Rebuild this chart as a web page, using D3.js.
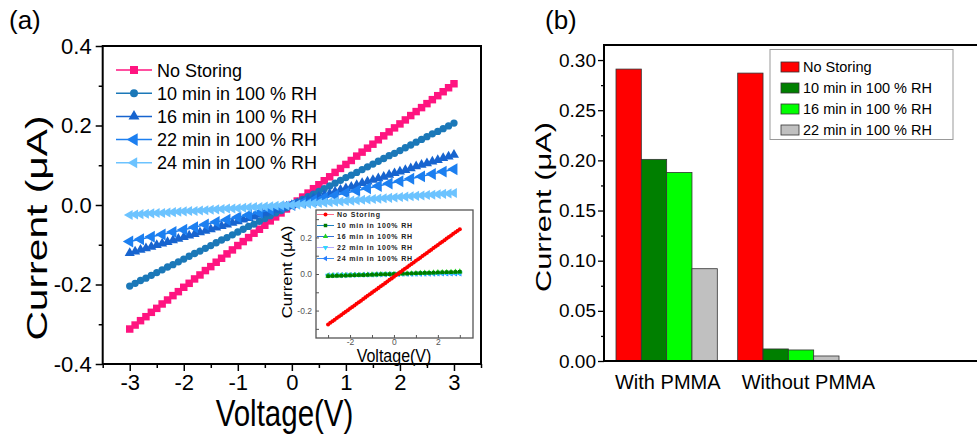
<!DOCTYPE html>
<html>
<head>
<meta charset="utf-8">
<script src="https://cdn.jsdelivr.net/npm/d3@7"></script>
<style>
  body { margin: 0; background: #fff; }
  svg { display: block; font-family: "Liberation Sans", Arial, sans-serif; }
</style>
</head>
<body>
<div class="chart"></div>
<script>
// ---- panel (a) data: I-V sweeps ----
const voltage = [-3.0,-2.9,-2.8,-2.7,-2.6,-2.5,-2.4,-2.3,-2.2,-2.1,-2.0,-1.9,-1.8,-1.7,-1.6,-1.5,-1.4,-1.3,-1.2,-1.1,
  -1.0,-0.9,-0.8,-0.7,-0.6,-0.5,-0.4,-0.3,-0.2,-0.1,0.0,0.1,0.2,0.3,0.4,0.5,0.6,0.7,0.8,0.9,
  1.0,1.1,1.2,1.3,1.4,1.5,1.6,1.7,1.8,1.9,2.0,2.1,2.2,2.3,2.4,2.5,2.6,2.7,2.8,2.9,3.0];
const voltageCoarse = [-3.0,-2.8,-2.6,-2.4,-2.2,-2.0,-1.8,-1.6,-1.4,-1.2,-1.0,-0.8,-0.6,-0.4,-0.2,0.0,
  0.2,0.4,0.6,0.8,1.0,1.2,1.4,1.6,1.8,2.0,2.2,2.4,2.6,2.8,3.0];

const noStoring = [-0.312,-0.302,-0.291,-0.281,-0.270,-0.260,-0.249,-0.239,-0.228,-0.218,-0.207,-0.197,-0.186,-0.176,-0.165,
  -0.155,-0.144,-0.134,-0.123,-0.113,-0.102,-0.092,-0.082,-0.071,-0.061,-0.051,-0.040,-0.030,-0.020,-0.010,0.000,
  0.010,0.020,0.030,0.041,0.051,0.061,0.071,0.082,0.092,0.102,0.112,0.123,0.133,0.143,0.153,0.164,0.174,0.184,0.194,
  0.204,0.214,0.225,0.235,0.245,0.255,0.265,0.275,0.285,0.295,0.305];
const min10 = [-0.204,-0.197,-0.190,-0.184,-0.177,-0.170,-0.163,-0.156,-0.150,-0.143,-0.136,-0.129,-0.122,-0.116,-0.109,
  -0.102,-0.095,-0.088,-0.082,-0.075,-0.068,-0.061,-0.054,-0.048,-0.041,-0.034,-0.027,-0.020,-0.014,-0.007,0.000,
  0.007,0.014,0.021,0.027,0.034,0.041,0.048,0.055,0.062,0.069,0.075,0.082,0.089,0.096,0.103,0.110,0.117,0.124,0.130,
  0.137,0.144,0.151,0.158,0.165,0.172,0.179,0.185,0.192,0.199,0.206];
const min16 = [-0.121,-0.117,-0.113,-0.109,-0.105,-0.101,-0.097,-0.093,-0.089,-0.085,-0.081,-0.077,-0.073,-0.069,-0.065,
  -0.061,-0.057,-0.053,-0.049,-0.045,-0.041,-0.037,-0.033,-0.029,-0.025,-0.021,-0.017,-0.012,-0.008,-0.004,0.000,
  0.004,0.008,0.013,0.017,0.021,0.025,0.029,0.034,0.038,0.042,0.046,0.050,0.055,0.059,0.063,0.067,0.071,0.076,0.080,
  0.084,0.088,0.092,0.097,0.101,0.105,0.109,0.113,0.118,0.122,0.126];
const min22 = [-0.092,-0.086,-0.080,-0.074,-0.068,-0.062,-0.056,-0.049,-0.043,-0.037,-0.031,-0.025,-0.019,-0.012,-0.006,0.000,
  0.006,0.012,0.018,0.024,0.030,0.036,0.042,0.048,0.054,0.060,0.066,0.072,0.078,0.084,0.090];
const min24 = [-0.025,-0.024,-0.023,-0.022,-0.021,-0.020,-0.020,-0.019,-0.018,-0.017,-0.016,-0.015,-0.015,-0.014,-0.013,
  -0.012,-0.011,-0.010,-0.009,-0.009,-0.008,-0.007,-0.006,-0.005,-0.005,-0.004,-0.003,-0.002,-0.001,-0.001,0.000,
  0.001,0.002,0.003,0.004,0.005,0.006,0.007,0.008,0.009,0.010,0.011,0.012,0.013,0.014,0.015,0.016,0.017,0.018,0.019,
  0.020,0.021,0.022,0.023,0.024,0.025,0.026,0.027,0.028,0.029,0.030];

// inset (bare device)
const insetNoStoring = [-0.276,-0.267,-0.258,-0.250,-0.241,-0.232,-0.224,-0.215,-0.206,-0.198,-0.189,-0.180,-0.172,-0.163,-0.154,
  -0.146,-0.137,-0.128,-0.119,-0.111,-0.102,-0.093,-0.085,-0.076,-0.067,-0.059,-0.050,-0.041,-0.032,-0.024,-0.015,
  -0.006,0.002,0.011,0.020,0.029,0.037,0.046,0.055,0.063,0.072,0.081,0.089,0.098,0.107,0.115,0.124,0.133,0.142,0.150,
  0.159,0.168,0.176,0.185,0.194,0.202,0.211,0.220,0.228,0.237,0.245];
const insetMin10 = [-0.012,-0.011,-0.010,-0.010,-0.009,-0.008,-0.007,-0.006,-0.006,-0.005,-0.004,-0.003,-0.002,-0.002,-0.001,0.000,
  0.001,0.002,0.002,0.003,0.004,0.005,0.006,0.006,0.007,0.008,0.009,0.010,0.010,0.011,0.012];
const insetMin16 = [-0.010,-0.009,-0.009,-0.008,-0.007,-0.007,-0.006,-0.005,-0.005,-0.004,-0.003,-0.003,-0.002,-0.001,-0.001,0.000,
  0.001,0.002,0.003,0.003,0.004,0.005,0.006,0.007,0.008,0.009,0.009,0.010,0.011,0.012,0.013];
const insetMin22 = [-0.008,-0.007,-0.007,-0.006,-0.006,-0.005,-0.005,-0.004,-0.004,-0.003,-0.003,-0.002,-0.002,-0.001,-0.001,0.000,
  0.000,0.001,0.001,0.002,0.002,0.003,0.003,0.004,0.004,0.004,0.005,0.005,0.005,0.006,0.006];
const insetMin24 = [-0.006,-0.006,-0.005,-0.005,-0.005,-0.004,-0.004,-0.004,-0.003,-0.003,-0.003,-0.002,-0.002,-0.002,-0.001,-0.001,
  -0.001,0.000,0.000,0.000,0.001,0.001,0.001,0.001,0.001,0.002,0.002,0.002,0.002,0.002,0.002];

const xTicksA = [-3, -2, -1, 0, 1, 2, 3];
const yTicksA = [-0.4, -0.2, 0.0, 0.2, 0.4];

// ---- panel (b) data: bars ----
const groups = ["With PMMA", "Without PMMA"];
const conditions = ["No Storing", "10 min in 100 % RH", "16 min in 100 % RH", "22 min in 100 % RH"];
const withPMMA = [0.291, 0.201, 0.188, 0.092];
const withoutPMMA = [0.287, 0.012, 0.011, 0.005];
const yTicksB = [0.00, 0.05, 0.10, 0.15, 0.20, 0.25, 0.30];

const width = 977, height = 434;
const svg = d3.select(".chart").append("svg")
    .attr("width", width)
    .attr("height", height);

const font = '"Liberation Sans", Arial, sans-serif';

// symbol helpers
const sym = (type, size) => d3.symbol().type(type).size(size)();

// ================= panel (a) =================
let x = d3.scaleLinear().domain([-3.5, 3.5]).range([102.7, 481]);
let y = d3.scaleLinear().domain([-0.4, 0.4]).range([364, 46]);

let seriesA = [
    {name: "No Storing", values: noStoring, v: voltage, color: "#ff1480", shape: d3.symbolSquare, size: 56, rot: 0},
    {name: "10 min in 100 % RH", values: min10, v: voltage, color: "#1b78b8", shape: d3.symbolCircle, size: 42, rot: 0},
    {name: "16 min in 100 % RH", values: min16, v: voltage, color: "#1764cf", shape: d3.symbolTriangle, size: 44, rot: 0},
    {name: "22 min in 100 % RH", values: min22, v: voltageCoarse, color: "#1c7ff0", shape: d3.symbolTriangle, size: 62, rot: -90},
    {name: "24 min in 100 % RH", values: min24, v: voltage, color: "#6cc3ff", shape: d3.symbolTriangle, size: 44, rot: -90}
];

let line = d3.line().x(d => x(d[0])).y(d => y(d[1]));

seriesA.forEach(s => {
    let pts = s.v.map((v, i) => [v, s.values[i]]);
    let g = svg.append("g");
    g.append("path")
        .attr("d", line(pts))
        .attr("fill", "none")
        .attr("stroke", s.color)
        .attr("stroke-width", 1.5);
    g.selectAll("path.m")
        .data(pts)
        .enter().append("path")
        .attr("class", "m")
        .attr("d", sym(s.shape, s.size))
        .attr("transform", d => `translate(${x(d[0])},${y(d[1])}) rotate(${s.rot})`)
        .attr("fill", s.color);
});

// axes (a)
let axA = svg.append("g").attr("font-family", font);
axA.append("g")
    .attr("transform", "translate(0,364)")
    .call(d3.axisBottom(x).tickValues([-3.5, -2.5, -1.5, -0.5, 0.5, 1.5, 2.5, 3.5]).tickSize(4).tickFormat(""))
    .call(g => g.select(".domain").remove());
axA.append("g")
    .attr("transform", "translate(0,364)")
    .call(d3.axisBottom(x).tickValues(xTicksA).tickSize(7).tickPadding(3).tickFormat(d => d.toString()))
    .call(g => g.select(".domain").remove())
    .call(g => g.selectAll("text").attr("font-size", 22).attr("fill", "#000").attr("font-family", font));
axA.append("g")
    .attr("transform", "translate(102.7,0)")
    .call(d3.axisLeft(y).tickValues([-0.3, -0.1, 0.1, 0.3]).tickSize(4).tickFormat(""))
    .call(g => g.select(".domain").remove());
axA.append("g")
    .attr("transform", "translate(102.7,0)")
    .call(d3.axisLeft(y).tickValues(yTicksA).tickSize(7).tickPadding(4).tickFormat(d => d.toFixed(1)))
    .call(g => g.select(".domain").remove())
    .call(g => g.selectAll("text").attr("font-size", 22).attr("fill", "#000").attr("font-family", font));
axA.selectAll(".tick line").attr("stroke", "#000").attr("stroke-width", 1.5);

svg.append("rect")
    .attr("x", x(-3.5)).attr("y", y(0.4))
    .attr("width", x(3.5) - x(-3.5)).attr("height", y(-0.4) - y(0.4))
    .attr("fill", "none").attr("stroke", "#000").attr("stroke-width", 2);

// axis titles (a)
svg.append("text")
    .attr("transform", "translate(284.5,426) scale(1,1.25)")
    .attr("text-anchor", "middle")
    .attr("font-size", 29.5)
    .text("Voltage(V)");
svg.append("text")
    .attr("transform", "translate(47,228) rotate(-90) scale(1.36,1)")
    .attr("text-anchor", "middle")
    .attr("font-size", 30)
    .text("Current (μA)");
svg.append("text").attr("x", 9).attr("y", 29).attr("font-size", 26).text("(a)");

// legend (a)
let legA = svg.append("g").selectAll("g")
    .data(seriesA)
    .enter().append("g")
    .attr("transform", (d, i) => `translate(116,${70 + i * 23.2})`);
legA.append("line").attr("x1", 0).attr("x2", 36)
    .attr("stroke", d => d.color).attr("stroke-width", 1.5);
legA.append("path")
    .attr("d", d => sym(d.shape, d.size + 8))
    .attr("transform", d => `translate(18,0) rotate(${d.rot})`)
    .attr("fill", d => d.color);
legA.append("text")
    .attr("x", 41).attr("y", 6.5)
    .attr("font-size", 18)
    .text(d => d.name);

// ================= inset =================
let xi = d3.scaleLinear().domain([-3.55, 3.6]).range([316, 473]);
let yi = d3.scaleLinear().domain([-0.35, 0.35]).range([338, 210]);

svg.append("rect")
    .attr("x", xi(-3.55)).attr("y", yi(0.35))
    .attr("width", xi(3.6) - xi(-3.55)).attr("height", yi(-0.35) - yi(0.35))
    .attr("fill", "#fff").attr("stroke", "#555").attr("stroke-width", 1.3);

let seriesI = [
    {name: "No Storing", values: insetNoStoring, v: voltage, line: "#ff6b8a", color: "#ff0000", shape: d3.symbolCircle, size: 9, rot: 0},
    {name: "10 min in 100% RH", values: insetMin10, v: voltageCoarse, line: "#1f80c0", color: "#007a00", shape: d3.symbolSquare, size: 9, rot: 0},
    {name: "16 min in 100% RH", values: insetMin16, v: voltageCoarse, line: "#3070d8", color: "#22d022", shape: d3.symbolTriangle, size: 10, rot: 0},
    {name: "22 min in 100% RH", values: insetMin22, v: voltageCoarse, line: "#b4a8ff", color: "#2ed8ff", shape: d3.symbolTriangle, size: 10, rot: 180},
    {name: "24 min in 100% RH", values: insetMin24, v: voltageCoarse, line: "#3d8ff0", color: "#2a7fff", shape: d3.symbolTriangle, size: 10, rot: -90}
];

let lineI = d3.line().x(d => xi(d[0])).y(d => yi(d[1]));
seriesI.slice().reverse().forEach(s => {
    let pts = s.v.map((v, i) => [v, s.values[i]]);
    let g = svg.append("g");
    g.append("path").attr("d", lineI(pts))
        .attr("fill", "none").attr("stroke", s.color).attr("stroke-width", 1.2);
    g.selectAll("path.m").data(pts).enter().append("path")
        .attr("class", "m")
        .attr("d", sym(s.shape, s.size + 4))
        .attr("transform", d => `translate(${xi(d[0])},${yi(d[1])}) rotate(${s.rot})`)
        .attr("fill", s.color);
});

let axI = svg.append("g").attr("font-family", font);
axI.append("g")
    .attr("transform", `translate(0,${yi(-0.35)})`)
    .call(d3.axisTop(xi).tickValues([-3, -2, -1, 0, 1, 2, 3]).tickSize(3).tickFormat(""))
    .call(g => g.select(".domain").remove());
axI.append("g")
    .attr("transform", `translate(0,${yi(-0.35)})`)
    .call(d3.axisBottom(xi).tickValues([-2, 0, 2]).tickSize(0).tickPadding(1).tickFormat(d => d.toString()))
    .call(g => g.select(".domain").remove());
axI.append("g")
    .attr("transform", `translate(${xi(-3.55)},0)`)
    .call(d3.axisRight(yi).tickValues([-0.3, -0.2, -0.1, 0, 0.1, 0.2, 0.3]).tickSize(3).tickFormat(""))
    .call(g => g.select(".domain").remove());
axI.append("g")
    .attr("transform", `translate(${xi(-3.55)},0)`)
    .call(d3.axisLeft(yi).tickValues([-0.2, 0, 0.2]).tickSize(0).tickPadding(4).tickFormat(d => d.toFixed(1)))
    .call(g => g.select(".domain").remove());
axI.selectAll(".tick line").attr("stroke", "#555");
axI.selectAll("text").attr("font-size", 8.5).attr("fill", "#555").attr("font-family", font);

svg.append("text")
    .attr("transform", "translate(394,362) scale(1,1.12)")
    .attr("text-anchor", "middle")
    .attr("font-size", 16)
    .text("Voltage(V)");
svg.append("text")
    .attr("transform", "translate(292,272) rotate(-90) scale(1.2,1)")
    .attr("text-anchor", "middle")
    .attr("font-size", 14)
    .text("Current (μA)");

let legI = svg.append("g").selectAll("g")
    .data(seriesI)
    .enter().append("g")
    .attr("transform", (d, i) => `translate(317,${214.5 + i * 11})`);
legI.append("line").attr("x1", 0).attr("x2", 17)
    .attr("stroke", d => d.line).attr("stroke-width", 1);
legI.append("path")
    .attr("d", d => sym(d.shape, 12))
    .attr("transform", d => `translate(8.5,0) rotate(${d.rot})`)
    .attr("fill", d => d.color);
legI.append("text")
    .attr("x", 20).attr("y", 2.5)
    .attr("font-size", 7)
    .attr("font-weight", "bold")
    .attr("letter-spacing", 0.8)
    .attr("fill", "#222")
    .text(d => d.name);

// ================= panel (b) =================
let colorsB = ["#ff0000", "#007f00", "#00ff00", "#c0c0c0"];
let xb = d3.scaleBand().domain(groups).range([604, 851]).paddingInner(0.1676).paddingOuter(0.0986);
let xSub = d3.scaleBand().domain(conditions).range([0, xb.bandwidth()]);
let yb = d3.scaleLinear().domain([0, 0.315]).range([361, 45]);

let barRows = groups.map((g, gi) => ({group: g, values: gi === 0 ? withPMMA : withoutPMMA}));

svg.append("g").selectAll("g")
    .data(barRows)
    .enter().append("g")
    .attr("transform", d => `translate(${xb(d.group)},0)`)
    .selectAll("rect")
    .data(d => d.values.map((v, i) => ({key: conditions[i], value: v, i: i})))
    .enter().append("rect")
    .attr("x", d => xSub(d.key))
    .attr("y", d => yb(d.value))
    .attr("width", xSub.bandwidth())
    .attr("height", d => yb(0) - yb(d.value))
    .attr("fill", d => colorsB[d.i])
    .attr("stroke", "#333")
    .attr("stroke-width", 0.8);

let axB = svg.append("g").attr("font-family", font);
axB.append("g")
    .attr("transform", "translate(604,0)")
    .call(d3.axisLeft(yb).tickValues([0.025, 0.075, 0.125, 0.175, 0.225, 0.275]).tickSize(3).tickFormat(""))
    .call(g => g.select(".domain").remove());
axB.append("g")
    .attr("transform", "translate(604,0)")
    .call(d3.axisLeft(yb).tickValues(yTicksB).tickSize(6).tickPadding(2).tickFormat(d => d.toFixed(2)))
    .call(g => g.select(".domain").remove())
    .call(g => g.selectAll("text").attr("font-size", 19).attr("fill", "#000").attr("font-family", font));
axB.selectAll(".tick line").attr("stroke", "#000").attr("stroke-width", 1.3);

// frame (b) runs off the right edge
svg.append("path")
    .attr("d", d3.line()([[990, yb(0.315)], [604, yb(0.315)], [604, yb(0)], [990, yb(0)]]))
    .attr("fill", "none").attr("stroke", "#000").attr("stroke-width", 2);

// group labels
svg.append("g").selectAll("text")
    .data(groups)
    .enter().append("text")
    .attr("x", (d, i) => xb(d) + (i === 0 ? -1 : 4))
    .attr("y", 389)
    .attr("font-size", 20)
    .text(d => d);

svg.append("text")
    .attr("transform", "translate(551,207) rotate(-90) scale(1.4,1)")
    .attr("text-anchor", "middle")
    .attr("font-size", 22)
    .text("Current (μA)");
svg.append("text").attr("x", 545).attr("y", 29).attr("font-size", 26).text("(b)");

// legend (b)
let legB = svg.append("g");
legB.append("rect")
    .attr("x", 770).attr("y", 49.5).attr("width", 183).attr("height", 90)
    .attr("fill", "#fff").attr("stroke", "#999").attr("stroke-width", 1);
let legBItems = legB.selectAll("g")
    .data(conditions)
    .enter().append("g")
    .attr("transform", (d, i) => `translate(781,${66 + i * 21})`);
legBItems.append("rect")
    .attr("x", 0).attr("y", -4).attr("width", 18).attr("height", 10)
    .attr("fill", (d, i) => colorsB[i]).attr("stroke", "#333").attr("stroke-width", 0.8);
legBItems.append("text")
    .attr("x", 22).attr("y", 6)
    .attr("font-size", 14.5)
    .text(d => d);
</script>
</body>
</html>
